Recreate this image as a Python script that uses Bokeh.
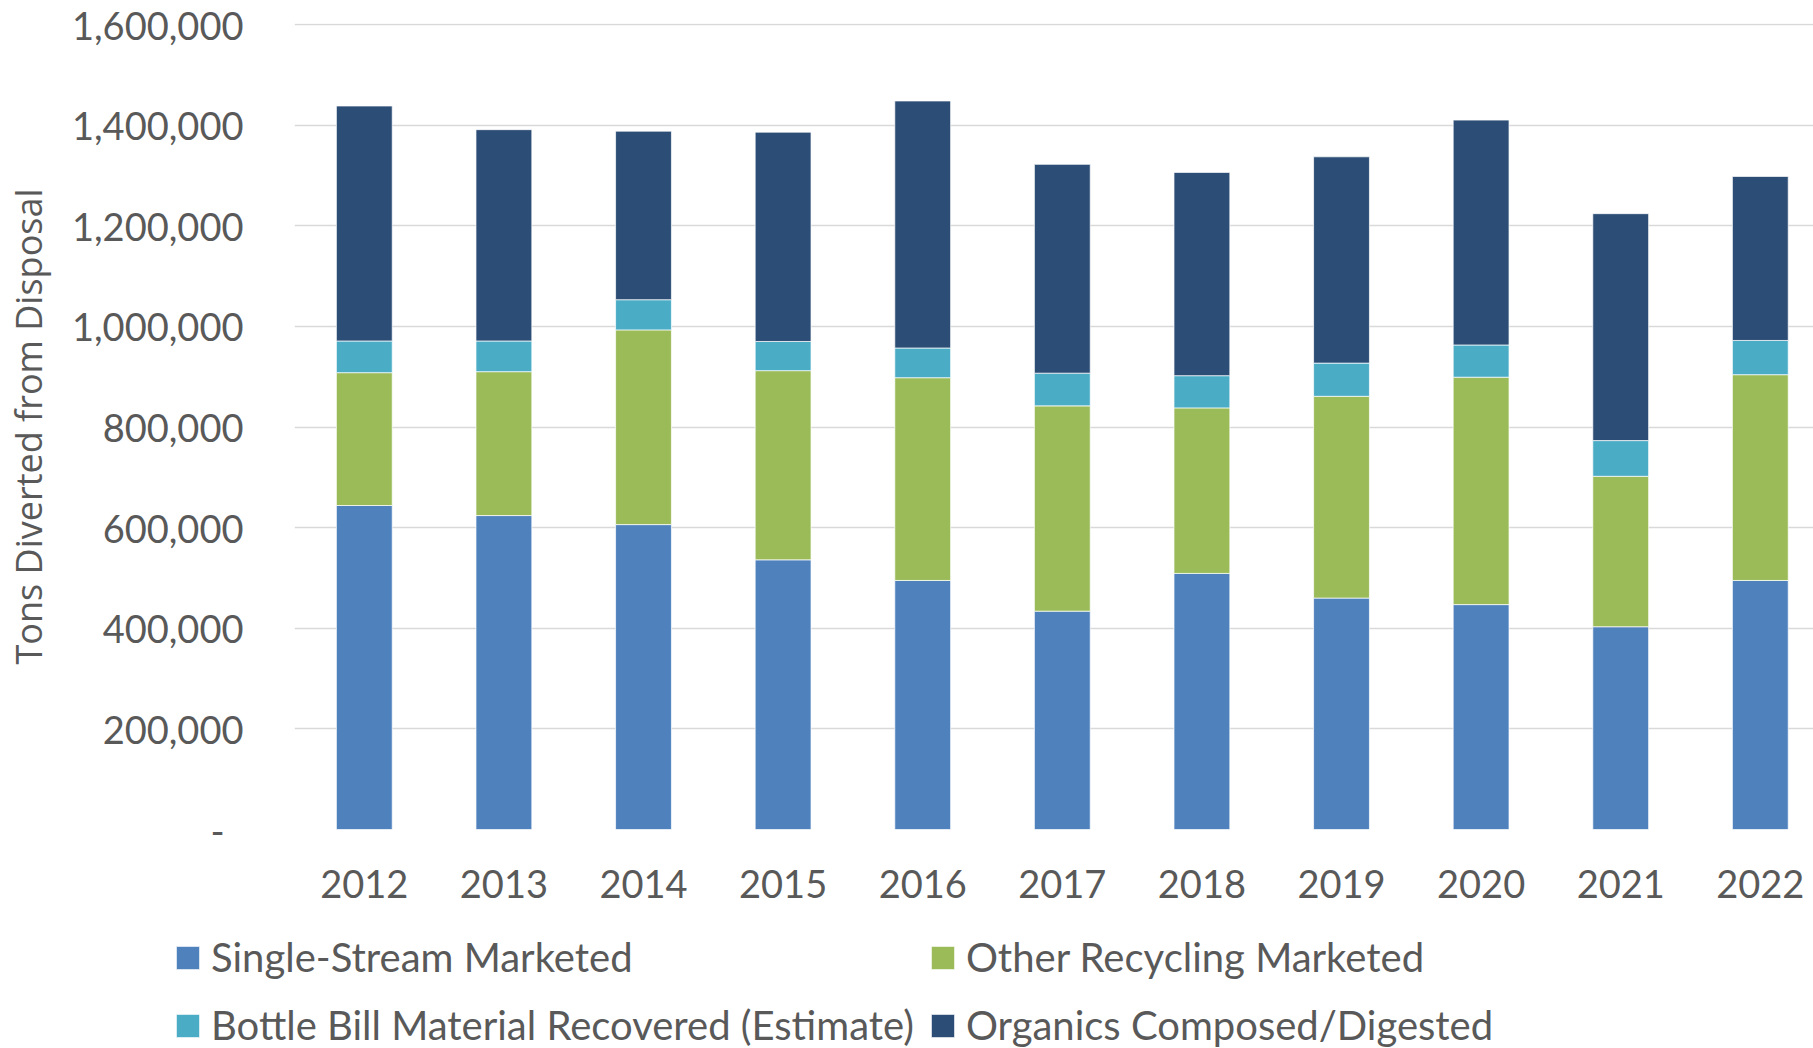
from bokeh.plotting import figure
from bokeh.layouts import column
from bokeh.models import (Range1d, FixedTicker, NumeralTickFormatter, Legend,
                          LegendItem, ColumnDataSource)
from bokeh.embed import file_html
from bokeh.resources import INLINE

years = [2012, 2013, 2014, 2015, 2016, 2017, 2018, 2019, 2020, 2021, 2022]
year_labels = [str(y) for y in years]
single_stream = [644000, 624000, 606000, 536000, 495000, 434000, 509000, 460000, 447000, 403000, 495000]
other_recycling = [264000, 286000, 387000, 376000, 403000, 408000, 329000, 401000, 452000, 299000, 409000]
bottle_bill = [63000, 61000, 60000, 58000, 59000, 65000, 64000, 66000, 64000, 71000, 68000]
organics = [467000, 420000, 335000, 416000, 491000, 415000, 404000, 410000, 447000, 451000, 326000]
series_names = ["Single-Stream Marketed", "Other Recycling Marketed",
                "Bottle Bill Material Recovered (Estimate)", "Organics Composed/Digested"]
y_ticks = [0, 200000, 400000, 600000, 800000, 1000000, 1200000, 1400000, 1600000]

colors = ["#4F81BD", "#9BBB59", "#4BACC6", "#2C4D75"]
keys = ["single", "other", "bottle", "organics"]
src = ColumnDataSource(dict(x=years, single=single_stream, other=other_recycling,
                            bottle=bottle_bill, organics=organics))

TXT = "#595959"
FONT = "Lato"
W = 1813

p = figure(width=W, height=920, output_backend="svg", toolbar_location=None,
           x_range=Range1d(2011.5, 2022.381), y_range=Range1d(0, 1602000),
           min_border_left=294, min_border_right=0, min_border_top=23,
           min_border_bottom=91)
p.outline_line_color = None
p.frame_align = False

rs = p.vbar_stack(keys, x="x", width=0.4, color=colors, source=src,
                  line_color="white", line_width=1, line_alpha=0.7)

p.xgrid.grid_line_color = None
p.ygrid.grid_line_color = "#D9D9D9"
p.ygrid.grid_line_width = 1.5

p.xaxis.ticker = FixedTicker(ticks=years)
p.xaxis.major_label_overrides = {y: s for y, s in zip(years, year_labels)}
p.xaxis.axis_line_color = None
p.xaxis.major_tick_line_color = None
p.xaxis.minor_tick_line_color = None
p.xaxis.major_label_text_font = FONT
p.xaxis.major_label_text_font_size = "38px"
p.xaxis.major_label_text_color = TXT
p.xaxis.major_label_standoff = 34

p.yaxis.ticker = FixedTicker(ticks=y_ticks)
p.yaxis.formatter = NumeralTickFormatter(format="0,0")
p.yaxis.major_label_overrides = {0: "-\u2002"}
p.yaxis.axis_line_color = None
p.yaxis.major_tick_line_color = None
p.yaxis.minor_tick_line_color = None
p.yaxis.major_label_text_font = FONT
p.yaxis.major_label_text_font_size = "38px"
p.yaxis.major_label_text_color = TXT
p.yaxis.major_label_standoff = 45
p.yaxis.axis_label = "Tons Diverted from Disposal"
p.yaxis.axis_label_text_font = "Open Sans"
p.yaxis.axis_label_text_font_size = "36px"
p.yaxis.axis_label_text_font_style = "normal"
p.yaxis.axis_label_text_color = TXT
p.yaxis.axis_label_standoff = 16

# legend strip below the chart (its own ranges keep the swatch bars out of view)
lg = figure(width=W, height=128, output_backend="svg", toolbar_location=None,
            x_axis_type=None, y_axis_type=None,
            x_range=Range1d(0, 1), y_range=Range1d(0, 1),
            min_border_left=0, min_border_right=0, min_border_top=0,
            min_border_bottom=0)
lg.outline_line_color = None
lg.frame_align = False
lg.xgrid.visible = False
lg.ygrid.visible = False
swatches = lg.vbar_stack(keys, x="x", width=0.4, color=colors, source=src,
                         line_color="white", line_width=1, line_alpha=0.7)
items = [LegendItem(label=n, renderers=[r]) for n, r in zip(series_names, swatches)]
legend = Legend(items=items, orientation="horizontal", ncols=2,
                location=(173, -4),
                label_text_font=FONT, label_text_font_size="40px",
                label_text_color=TXT, glyph_width=29, glyph_height=29,
                label_standoff=9, spacing=14, label_height=54, label_width=694,
                padding=0, margin=0, border_line_color=None,
                background_fill_alpha=0)
lg.add_layout(legend, "center")

layout = column(p, lg, spacing=0)
open("out.html", "w").write(file_html(layout, INLINE))
